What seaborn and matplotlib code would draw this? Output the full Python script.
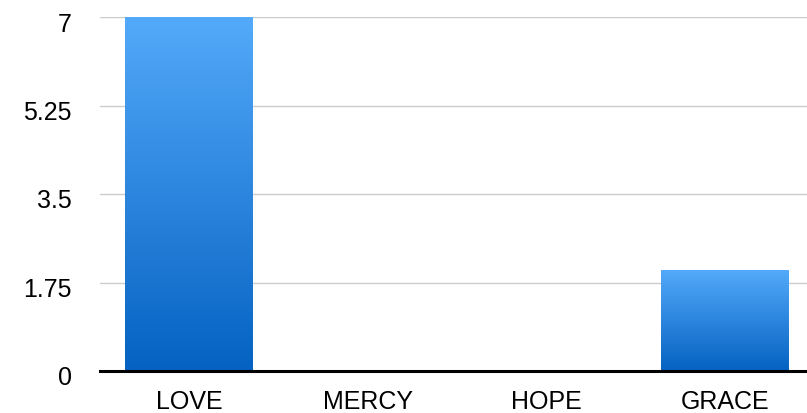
import numpy as np
import pandas as pd
import seaborn as sns
import matplotlib.pyplot as plt
import matplotlib.transforms as mtransforms
from matplotlib.colors import LinearSegmentedColormap

# chart data
categories = ['LOVE', 'MERCY', 'HOPE', 'GRACE']
values = [7, 0, 0, 2]
y_ticks = [0, 1.75, 3.5, 5.25, 7]

df = pd.DataFrame({'word': categories, 'count': values})

sns.set_style('white')
plt.rcParams['font.family'] = ['Liberation Sans', 'DejaVu Sans']

fig = plt.figure(figsize=(8.07, 4.14), dpi=100)
ax = fig.add_axes([99.7 / 807, 42 / 414, 714.3 / 807, 354 / 414])

sns.barplot(data=df, x='word', y='count', order=categories, width=0.716,
            color='#3b93e8', ax=ax, zorder=3)

ax.set_yticks(y_ticks)
ax.set_yticklabels(['0', '1.75', '3.5', '5.25', '7'])

# gradient fill for each bar
cmap = LinearSegmentedColormap.from_list('blu', ['#0562c2', '#54aafa'])
grad = np.linspace(0, 1, 256).reshape(-1, 1)
for bar in ax.patches:
    h = bar.get_height()
    if h <= 0:
        bar.set_visible(False)
        continue
    x0 = bar.get_x()
    w = bar.get_width()
    bar.set_facecolor('none')
    bar.set_edgecolor('none')
    im = ax.imshow(grad, extent=[x0, x0 + w, 0, h], origin='lower',
                   aspect='auto', cmap=cmap, zorder=3)
    im.set_clip_path(bar)

ax.set_xlim(-0.5, 3.5)
ax.set_ylim(0, 7)

# grid and spines
ax.yaxis.grid(True, color='#cccccc', linewidth=1)
ax.set_axisbelow(True)
for s in ['left', 'right', 'top']:
    ax.spines[s].set_visible(False)
ax.spines['bottom'].set_color('black')
ax.spines['bottom'].set_linewidth(2.2)
ax.spines['bottom'].set_zorder(5)

ax.tick_params(axis='both', length=0, labelsize=18, colors='black')
ax.tick_params(axis='y', pad=20)
ax.tick_params(axis='x', pad=13)
ax.set_xlabel('')
ax.set_ylabel('')

# y labels sit a little below their gridlines
offset = mtransforms.ScaledTranslation(0, -4 / 100, fig.dpi_scale_trans)
for lbl in ax.get_yticklabels():
    lbl.set_transform(lbl.get_transform() + offset)

fig.savefig('out.png', dpi=100)
